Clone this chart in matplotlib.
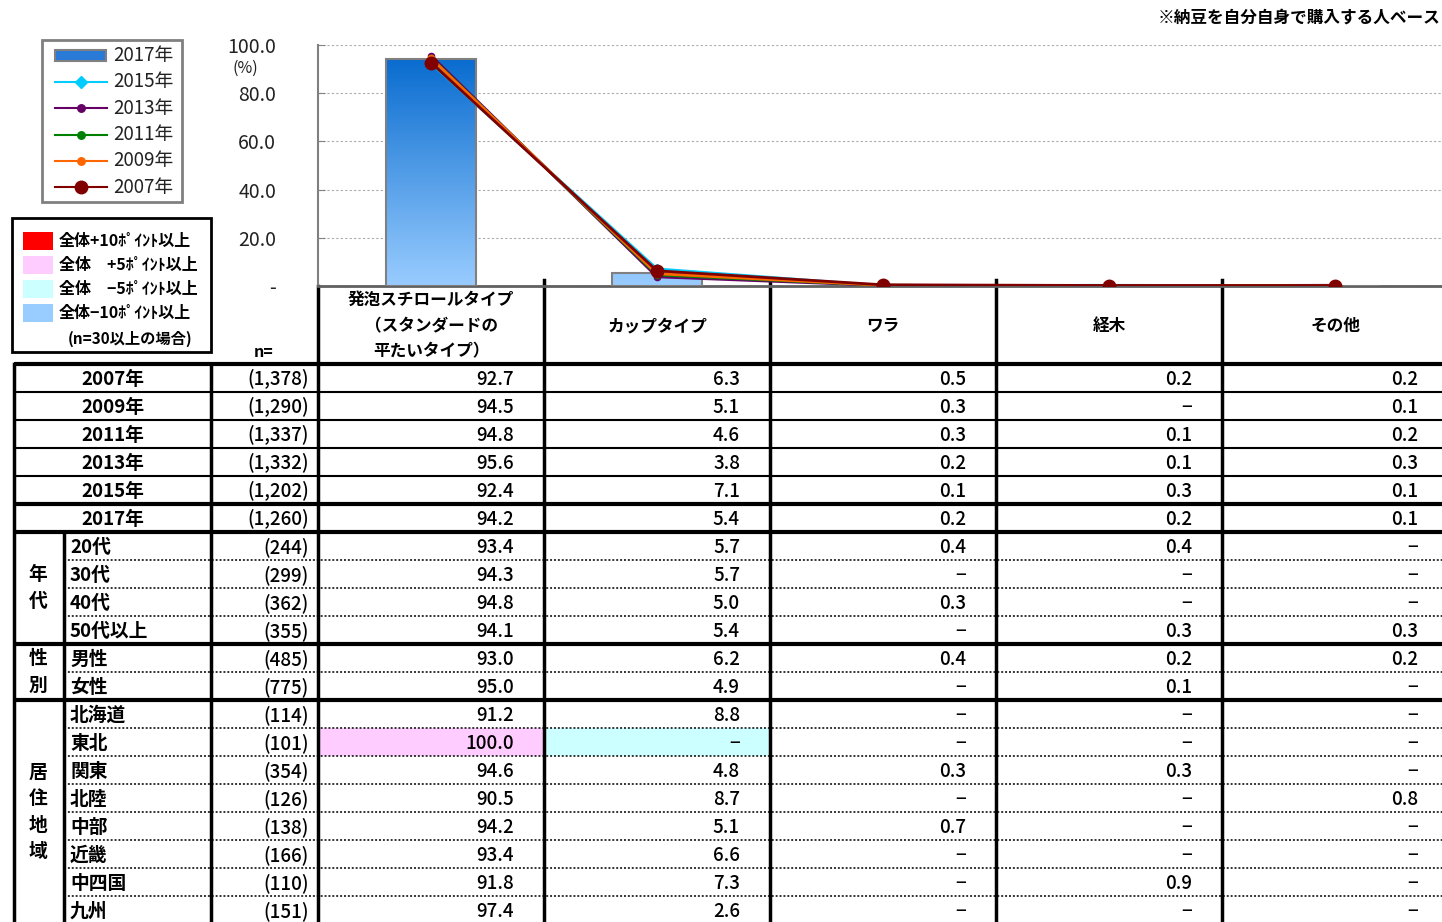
import numpy as np
import matplotlib
matplotlib.use("Agg")
import matplotlib.pyplot as plt
from matplotlib.colors import LinearSegmentedColormap
from matplotlib.patches import Rectangle
from matplotlib.lines import Line2D

plt.rcParams['font.family'] = ['Noto Sans CJK JP', 'DejaVu Sans']

# ---- data (None = "-") ----
categories = ["発泡スチロールタイプ\n（スタンダードの\n平たいタイプ）", "カップタイプ", "ワラ", "経木", "その他"]

year_labels = ["2007年", "2009年", "2011年", "2013年", "2015年", "2017年"]
year_n = [1378, 1290, 1337, 1332, 1202, 1260]
year_values = [
    [92.7, 6.3, 0.5, 0.2, 0.2],
    [94.5, 5.1, 0.3, None, 0.1],
    [94.8, 4.6, 0.3, 0.1, 0.2],
    [95.6, 3.8, 0.2, 0.1, 0.3],
    [92.4, 7.1, 0.1, 0.3, 0.1],
    [94.2, 5.4, 0.2, 0.2, 0.1],
]

age_labels = ["20代", "30代", "40代", "50代以上"]
age_n = [244, 299, 362, 355]
age_values = [
    [93.4, 5.7, 0.4, 0.4, None],
    [94.3, 5.7, None, None, None],
    [94.8, 5.0, 0.3, None, None],
    [94.1, 5.4, None, 0.3, 0.3],
]

sex_labels = ["男性", "女性"]
sex_n = [485, 775]
sex_values = [
    [93.0, 6.2, 0.4, 0.2, 0.2],
    [95.0, 4.9, None, 0.1, None],
]

region_labels = ["北海道", "東北", "関東", "北陸", "中部", "近畿", "中四国", "九州"]
region_n = [114, 101, 354, 126, 138, 166, 110, 151]
region_values = [
    [91.2, 8.8, None, None, None],
    [100.0, None, None, None, None],
    [94.6, 4.8, 0.3, 0.3, None],
    [90.5, 8.7, None, None, 0.8],
    [94.2, 5.1, 0.7, None, None],
    [93.4, 6.6, None, None, None],
    [91.8, 7.3, None, 0.9, None],
    [97.4, 2.6, None, None, None],
]

# cells coloured against the total (row label, column index)
highlight = {("東北", 0): "#FFCCFF", ("東北", 1): "#CCFFFF"}

line_years = ["2015年", "2013年", "2011年", "2009年", "2007年"]
line_colors = ["#00CCFF", "#660066", "#008000", "#FF6600", "#800000"]
line_markers = ["D", "o", "o", "o", "o"]
line_msizes = [5, 4.5, 4.5, 4.5, 9]

W, H = 1442, 922
fig = plt.figure(figsize=(W / 100, H / 100), dpi=100)

# ---- chart ----
ax = fig.add_axes([318 / W, 1 - 286 / H, (1448 - 318) / W, 241 / H])
x = np.arange(len(categories))
bar_vals = [v or 0 for v in year_values[5]]
bars = ax.bar(x, bar_vals, width=0.4, facecolor="none", edgecolor="#808080", lw=1.5, zorder=3)
cmap = LinearSegmentedColormap.from_list("bar", ["#99CCFF", "#0066CC"])
grad = np.linspace(0, 1, 256).reshape(-1, 1)
for b in bars:
    im = ax.imshow(grad, extent=(b.get_x(), b.get_x() + b.get_width(), 0, 100),
                   origin="lower", aspect="auto", cmap=cmap, zorder=2)
    im.set_clip_path(b)

for yl, c, m, ms in zip(line_years, line_colors, line_markers, line_msizes):
    row = year_values[year_labels.index(yl)]
    ax.plot(x, [v or 0 for v in row], color=c, lw=2, marker=m, ms=ms, zorder=4)

ax.set_xlim(-0.5, 4.5)
ax.set_ylim(0, 100)
ax.set_xticks([])
ax.set_yticks([0, 20, 40, 60, 80, 100])
ax.set_yticklabels(["-", "20.0", "40.0", "60.0", "80.0", "100.0"])
ax.tick_params(axis="y", direction="in", length=5, pad=30, color="#808080",
               labelsize=14, labelcolor="#222222")
ax.yaxis.grid(True, color="#AAAAAA", linestyle=(0, (2, 2)), lw=0.8)
ax.set_axisbelow(True)
for s in ["top", "right"]:
    ax.spines[s].set_visible(False)
ax.spines["left"].set_color("#808080")
ax.spines["left"].set_linewidth(1.5)
ax.spines["bottom"].set_color("#606060")
ax.spines["bottom"].set_linewidth(2)
ax.patch.set_alpha(0)

# ---- overlay in pixel coordinates ----
ov = fig.add_axes([0, 0, 1, 1], zorder=-1)
ov.set_xlim(0, W)
ov.set_ylim(H, 0)
ov.axis("off")

ov.text(1440, 18, "※納豆を自分自身で購入する人ベース", ha="right", va="center",
        fontsize=12, fontweight="bold")
ov.text(245, 68, "(%)", ha="center", va="center", fontsize=11.5, color="#222222")
ov.text(264, 352, "n=", ha="center", va="center", fontsize=11.5, fontweight="bold")

# line legend
ov.add_patch(Rectangle((42, 40), 140, 162, fill=False, edgecolor="#808080", lw=2))
ov.add_patch(Rectangle((55, 50), 51, 11, facecolor="#2A7AD8", edgecolor="#808080", lw=1.5))
ov.text(113, 56, "2017年", ha="left", va="center", fontsize=13.5, color="#222222")
for i, (yl, c, m, ms) in enumerate(zip(line_years, line_colors, line_markers, line_msizes)):
    yy = 82 + i * 26.3
    ov.add_line(Line2D([55, 107], [yy, yy], color=c, lw=1.5))
    ov.add_line(Line2D([81], [yy], color=c, marker=m, ms=ms * 1.2 if ms < 8 else ms, lw=0))
    ov.text(113, yy, yl, ha="left", va="center", fontsize=13.5, color="#222222")

# colour legend
ov.add_patch(Rectangle((12, 218), 199, 134, fill=False, edgecolor="black", lw=2))
swatches = [("#FF0000", "全体+10ﾎﾟｲﾝﾄ以上"), ("#FFCCFF", "全体　+5ﾎﾟｲﾝﾄ以上"),
            ("#CCFFFF", "全体　−5ﾎﾟｲﾝﾄ以上"), ("#99CCFF", "全体−10ﾎﾟｲﾝﾄ以上")]
for i, (c, t) in enumerate(swatches):
    yy = 241 + i * 24
    ov.add_patch(Rectangle((23, yy - 9), 30, 18, facecolor=c, edgecolor="none"))
    ov.text(59, yy, t, ha="left", va="center", fontsize=11.5, fontweight="bold")
ov.text(68, 339, "(n=30以上の場合)", ha="left", va="center", fontsize=11, fontweight="bold")

# header
col_edges = [318, 544, 770, 996, 1222, 1448]
for j, cat in enumerate(categories):
    cx = (col_edges[j] + col_edges[j + 1]) / 2
    ov.text(cx, 326, cat, ha="center", va="center", fontsize=12, fontweight="bold",
            linespacing=1.55)

# table body
row_h = 28
top = 364
groups = [
    (None, year_labels, year_n, year_values),
    ("年\n代", age_labels, age_n, age_values),
    ("性\n別", sex_labels, sex_n, sex_values),
    ("居\n住\n地\n域", region_labels, region_n, region_values),
]
num_fs = 13.5
y = top
for gname, labels, ns, vals in groups:
    gy0 = y
    for k, (lab, n, row) in enumerate(zip(labels, ns, vals)):
        yc = y + row_h / 2
        for j, v in enumerate(row):
            if (lab, j) in highlight:
                ov.add_patch(Rectangle((col_edges[j], y), col_edges[j + 1] - col_edges[j], row_h,
                                       facecolor=highlight[(lab, j)], edgecolor="none", zorder=0))
            txt = "−" if v is None else f"{v:.1f}"
            ov.text(col_edges[j + 1] - 30, yc + 1, txt, ha="right", va="center",
                    fontsize=num_fs, fontweight=500)
        ov.text(309, yc + 1, f"({n:,})", ha="right", va="center", fontsize=num_fs, fontweight=500)
        if gname is None:
            ov.text(113, yc + 1, lab, ha="center", va="center", fontsize=13.5, fontweight="bold")
        else:
            ov.text(70, yc + 1, lab, ha="left", va="center", fontsize=13.5, fontweight="bold")
        y += row_h
        if k < len(labels) - 1:
            if gname is None:
                lw = 3 if k == len(labels) - 2 else 1.5
                ov.plot([14, W], [y, y], color="black", lw=lw, solid_capstyle="butt")
            else:
                ov.plot([64, W], [y, y], color="#333333", lw=1.4, linestyle=(0, (1, 1)))
    if gname is not None:
        ov.text(38, (gy0 + y) / 2, gname, ha="center", va="center", fontsize=13.5,
                fontweight="bold", linespacing=1.5)
    ov.plot([14, W], [y, y], color="black", lw=3, solid_capstyle="butt")

ov.plot([14, W], [top, top], color="black", lw=3, solid_capstyle="butt")
ov.plot([14, 14], [top, H], color="black", lw=2.5)
ov.plot([64, 64], [top + 6 * row_h, H], color="black", lw=2.5)
ov.plot([211, 211], [top, H], color="black", lw=2.5)
ov.plot([318, 318], [286, H], color="black", lw=2.5)
for xe in col_edges[1:-1]:
    ov.plot([xe, xe], [280, H], color="black", lw=2.5)

fig.savefig("out.png", dpi=100)
